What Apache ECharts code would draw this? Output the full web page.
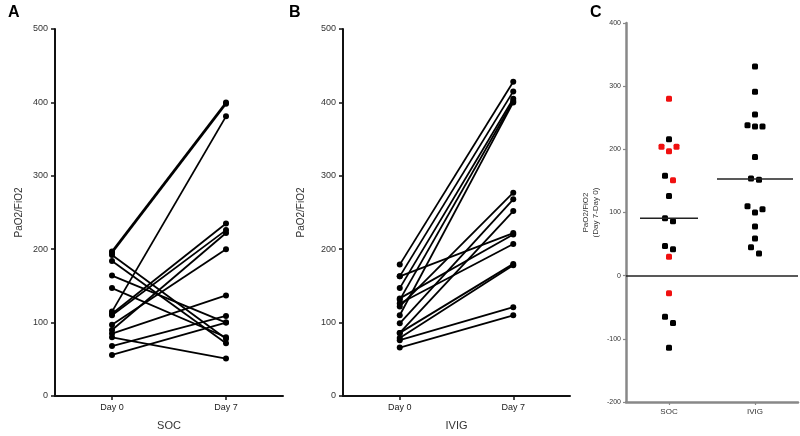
<!DOCTYPE html>
<html>
<head>
<meta charset="utf-8">
<script src="https://cdn.jsdelivr.net/npm/echarts@6/dist/echarts.min.js"></script>
<style>html,body{margin:0;padding:0;background:#fff}#c{width:800px;height:436px}</style>
</head>
<body>
<div id="c"></div>
<script>
// ---- data ----
var dayLabels = ['Day 0', 'Day 7'];
var socDay0 = [197, 195, 115, 112, 110, 90, 97, 192, 184, 164, 147, 85, 68, 56, 80];
var socDay7 = [400, 398, 381, 235, 226, 222, 200, 78, 72, 100, 80, 137, 109, 100, 51];
var ivigDay0 = [179, 163, 131, 110, 122, 99, 86, 163, 133, 126, 86, 79, 76, 66, 147];
var ivigDay7 = [428, 415, 402, 400, 277, 268, 252, 222, 220, 207, 180, 178, 121, 110, 405];
var diffGroups = ['SOC', 'IVIG'];
var socDiff = [280, 216, 204, 204, 197, 158, 151, 126, 91, 86, 47, 42, 30, -28, -65, -75, -114];
var socHighlight = [1, 0, 1, 1, 1, 0, 1, 0, 0, 0, 0, 0, 1, 1, 0, 0, 0];
var ivigDiff = [331, 291, 255, 238, 236, 236, 188, 154, 152, 110, 105, 100, 78, 59, 45, 35];
var pairTicks = [0, 100, 200, 300, 400, 500];
var diffTicks = [-200, -100, 0, 100, 200, 300, 400];

// ---- helpers ----
function median(a) {
  var s = a.slice().sort(function (x, y) { return x - y; });
  var n = s.length;
  return n % 2 ? s[(n - 1) / 2] : (s[n / 2 - 1] + s[n / 2]) / 2;
}
// simple beeswarm: cluster values that are closer than a pixel threshold and spread them symmetrically
var pxPerUnitY = 379 / 600, pxPerUnitX = 86;
function swarm(vals, center) {
  var idx = vals.map(function (v, i) { return i; }).sort(function (a, b) { return vals[b] - vals[a]; });
  var out = new Array(vals.length);
  var clusters = [], cur = [];
  idx.forEach(function (i, k) {
    if (k > 0 && (vals[idx[k - 1]] - vals[i]) * pxPerUnitY < 7) cur.push(i);
    else { if (cur.length) clusters.push(cur); cur = [i]; }
  });
  if (cur.length) clusters.push(cur);
  clusters.forEach(function (c) {
    var offs;
    if (c.length === 1) offs = [0];
    else if (c.length === 2) offs = [-4, 4];
    else if (c.length === 3) offs = [-7.5, 7.5, 0];
    else offs = c.map(function (_, j) { return (j - (c.length - 1) / 2) * 6; });
    c.forEach(function (i, j) { out[i] = [center + offs[j] / pxPerUnitX, vals[i]]; });
  });
  return out;
}

var font = 'Liberation Sans, Arial, sans-serif';

function pairXAxis(gridIndex, name) {
  return {
    type: 'value', gridIndex: gridIndex, min: -0.5, max: 1.5,
    axisLine: { onZero: false, lineStyle: { color: '#111', width: 2 } },
    axisTick: { customValues: [0, 1], length: 4, lineStyle: { color: '#111', width: 1.5 } },
    axisLabel: { customValues: [0, 1], formatter: function (v) { return dayLabels[Math.round(v)]; },
      fontSize: 9, color: '#222', fontFamily: font, margin: 7 },
    splitLine: { show: false },
    name: name, nameLocation: 'middle', nameGap: 24,
    nameTextStyle: { fontSize: 11, color: '#333', fontFamily: font }
  };
}
function pairYAxis(gridIndex, gap) {
  return {
    type: 'value', gridIndex: gridIndex, min: 0, max: 500, interval: 100,
    axisLine: { show: true, onZero: false, lineStyle: { color: '#111', width: 2 } },
    axisTick: { show: true, length: 4, lineStyle: { color: '#111', width: 1.5 } },
    axisLabel: { fontSize: 9, color: '#333', fontFamily: font, margin: 7 },
    splitLine: { show: false },
    name: 'PaO2/FiO2', nameLocation: 'middle', nameGap: gap,
    nameTextStyle: { fontSize: 10, color: '#333', fontFamily: font }
  };
}
function pairSeries(d0, d7, axisIndex) {
  return d0.map(function (v, i) {
    return {
      type: 'line', xAxisIndex: axisIndex, yAxisIndex: axisIndex,
      data: [[0, v], [1, d7[i]]],
      symbol: 'circle', symbolSize: 6, showSymbol: true,
      lineStyle: { color: '#000', width: 1.8 },
      itemStyle: { color: '#000' }, silent: true, animation: false
    };
  });
}

var socPts = swarm(socDiff, 1);
var ivigPts = swarm(ivigDiff, 2);
var socRed = [], socBlack = [];
socPts.forEach(function (p, i) { (socHighlight[i] ? socRed : socBlack).push(p); });

var option = {
  animation: false,
  backgroundColor: '#fff',
  title: [
    { text: 'A', left: 3, top: 0, textStyle: { fontSize: 16, fontWeight: 'bold', color: '#000', fontFamily: font } },
    { text: 'B', left: 284, top: 0, textStyle: { fontSize: 16, fontWeight: 'bold', color: '#000', fontFamily: font } },
    { text: 'C', left: 585, top: 0, textStyle: { fontSize: 16, fontWeight: 'bold', color: '#000', fontFamily: font } }
  ],
  grid: [
    { left: 55, top: 29, width: 228, height: 369 },
    { left: 343, top: 29, width: 227, height: 369 },
    { left: 626, top: 23, width: 172, height: 379 }
  ],
  xAxis: [
    pairXAxis(0, 'SOC'),
    pairXAxis(1, 'IVIG'),
    {
      type: 'value', gridIndex: 2, min: 0.5, max: 2.5,
      axisLine: { onZero: false, lineStyle: { color: '#888', width: 2.5 } },
      axisTick: { customValues: [1, 2], length: 3, lineStyle: { color: '#888', width: 1.2 } },
      axisLabel: { customValues: [1, 2], formatter: function (v) { return diffGroups[Math.round(v) - 1]; },
        fontSize: 8, color: '#333', fontFamily: font, margin: 6 },
      splitLine: { show: false }
    }
  ],
  yAxis: [
    pairYAxis(0, 31),
    pairYAxis(1, 37),
    {
      type: 'value', gridIndex: 2, min: -200, max: 400, interval: 100,
      axisLine: { show: true, onZero: false, lineStyle: { color: '#888', width: 2.5 } },
      axisTick: { show: true, length: 3, lineStyle: { color: '#888', width: 1.2 } },
      axisLabel: { fontSize: 7, color: '#333', fontFamily: font, margin: 5 },
      splitLine: { show: false },
      name: 'PaO2/FiO2\n(Day 7-Day 0)', nameLocation: 'middle', nameGap: 25,
      nameTextStyle: { fontSize: 8, color: '#333', fontFamily: font, lineHeight: 10 }
    }
  ],
  series: pairSeries(socDay0, socDay7, 0)
    .concat(pairSeries(ivigDay0, ivigDay7, 1))
    .concat([
      {
        type: 'scatter', xAxisIndex: 2, yAxisIndex: 2, data: socBlack.concat(ivigPts),
        symbol: 'roundRect', symbolSize: 6, itemStyle: { color: '#000', opacity: 1 },
        markLine: { silent: true, symbol: 'none', label: { show: false },
          lineStyle: { color: '#222', width: 1.5, type: 'solid' }, data: [{ yAxis: 0 }] }
      },
      {
        type: 'scatter', xAxisIndex: 2, yAxisIndex: 2, data: socRed,
        symbol: 'roundRect', symbolSize: 6, itemStyle: { color: '#f01010', opacity: 1 }
      },
      {
        type: 'scatter', xAxisIndex: 2, yAxisIndex: 2, data: [[1, median(socDiff)]],
        symbol: 'rect', symbolSize: [58, 1.5], itemStyle: { color: '#222', opacity: 1 }
      },
      {
        type: 'scatter', xAxisIndex: 2, yAxisIndex: 2, data: [[2, median(ivigDiff)]],
        symbol: 'rect', symbolSize: [76, 1.5], itemStyle: { color: '#222', opacity: 1 }
      }
    ])
};
echarts.init(document.getElementById('c'), null, { renderer: 'canvas' }).setOption(option);
</script>
</body>
</html>
